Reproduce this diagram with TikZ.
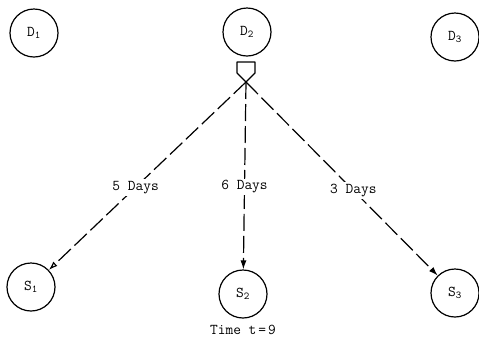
\documentclass[tikz,border=0pt]{standalone}
\usetikzlibrary{arrows.meta}
\begin{document}
\begin{tikzpicture}[x=1pt,y=-1pt,
  place/.style={circle,draw,line width=1.2pt,minimum size=48pt,inner sep=0,font=\ttfamily\fontsize{15}{17}\selectfont},
  flow/.style={line width=1.2pt,dash pattern=on 17pt off 5pt},
  days/.style={fill=white,inner sep=2pt,pos=0.56,font=\ttfamily\fontsize{15}{17}\selectfont}]
\useasboundingbox (0,0) rectangle (479,341);
% depots on top, stations below
\node[place](D1) at (34,33){D\textsubscript{1}};
\node[place](D2) at (247,32){D\textsubscript{2}};
\node[place](D3) at (455,37){D\textsubscript{3}};
\node[place](S1) at (31,287){S\textsubscript{1}};
\node[place](S2) at (243,294){S\textsubscript{2}};
\node[place](S3) at (455,293){S\textsubscript{3}};
% splitter below D2
\coordinate (T) at (246,82);
\draw[line width=1.2pt,line join=round](T)--++(-9,-9)--++(0,-11)--++(18,0)--++(0,11)--cycle;
\draw[flow,-{Latex[open,length=9pt,width=6pt]}](T)--node[days]{5 Days}(S1);
\draw[flow,-{Latex[length=9pt,width=6pt]}](T)--node[days]{6 Days}(S2);
\draw[flow,-{Latex[length=9pt,width=6pt]}](T)--node[days]{3 Days}(S3);
\node[font=\ttfamily\fontsize{15}{17}\selectfont](time) at (243,330){Time t\kern2pt=\kern2pt9};
\end{tikzpicture}
\end{document}
